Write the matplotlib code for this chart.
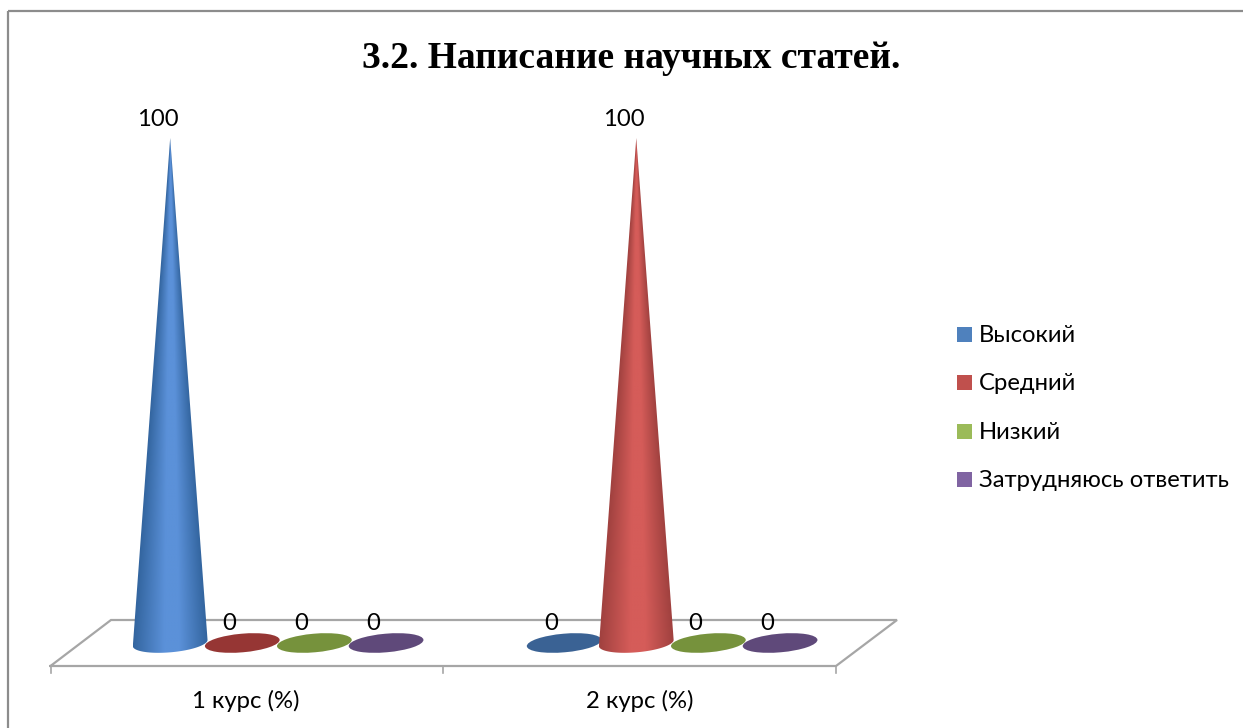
import numpy as np
import matplotlib
matplotlib.use("Agg")
import matplotlib.pyplot as plt
from matplotlib.patches import Ellipse, Polygon, Rectangle
from matplotlib.colors import LinearSegmentedColormap
from matplotlib.transforms import Affine2D, IdentityTransform

title = "3.2. Написание научных статей."
categories = ["1 курс (%)", "2 курс (%)"]
series_names = ["Высокий", "Средний", "Низкий", "Затрудняюсь ответить"]
vysoky = [100, 0]
sredny = [0, 100]
nizky = [0, 0]
zatr = [0, 0]
series_values = [vysoky, sredny, nizky, zatr]
legend_colors = ["#4f81bd", "#c0504d", "#9bbb59", "#8064a2"]
disc_colors = ["#3a6294", "#963634", "#76923c", "#5f497a"]
edge_colors = ["#33659f", "#a0413f", "#76923c", "#5f497a"]
mid_colors = ["#5b91d9", "#d55c59", "#a5c860", "#8a6cb0"]

W, H = 1245, 728
fig = plt.figure(figsize=(W / 100, H / 100), dpi=100, facecolor="white")
plt.rcParams["font.family"] = ["Lato", "Open Sans", "DejaVu Sans"]


def rect(x0, ytop, x1, ybot):
    return [x0 / W, 1 - ybot / H, (x1 - x0) / W, (ybot - ytop) / H]


# page overlay in pixels: chart frame, floor, legend
pg = fig.add_axes([0, 0, 1, 1], zorder=0)
pg.set_xlim(0, W)
pg.set_ylim(H, 0)
pg.axis("off")
frame = "#8c8c8c"
pg.plot([8, 8], [H, 11], color=frame, lw=1.6, solid_capstyle="butt")
pg.plot([8, 1243], [11, 11], color=frame, lw=1.6, solid_capstyle="butt")
grey = "#a6a6a6"
pg.plot([50.5, 111, 897, 836, 50.5], [666, 620, 620, 666, 666], color=grey, lw=1.6, solid_joinstyle="miter")
for tx in (50.5, 443, 836):
    pg.plot([tx, tx], [666, 673], color=grey, lw=1.2)

pg.text(631, 58, title, family="Liberation Serif", weight="bold", fontsize=27,
        ha="center", va="center", color="black")

FS = 17.2
for ly, name, c in zip([334.5, 382.5, 431.5, 479.5], series_names, legend_colors):
    pg.add_patch(Rectangle((957, ly - 7.5), 15, 15, fc=c, ec="none"))
    pg.text(979, ly + 1, name, fontsize=FS, va="center", ha="left", color="black")

# data axes: x = category position, y = value (505 px per 100, room below zero)
PX = 5.05
ax = fig.add_axes(rect(50, 138, 838, 643 + 10 * PX), zorder=1)
ax.patch.set_alpha(0)
ax.axis("off")
ax.set_xlim(0, 2)
ax.set_ylim(-10, 100)

offsets = [0.305, 0.488, 0.671, 0.853]
A, B, TILT = 37.5, 9.3, 5
th = np.deg2rad(TILT)
GROUP_PX = 394

for g, cat in enumerate(categories):
    pg.text(246 + 393.5 * g, 701, cat, fontsize=FS, ha="center", va="center", color="black")
    for s, vals in enumerate(series_values):
        v = vals[g]
        xd = g + offsets[s]
        px, py = ax.transData.transform((xd, 0))
        if v == 0:
            ax.add_patch(Ellipse((0, 0), 2 * A, 2 * B, angle=TILT, fc=disc_colors[s], ec="none",
                                 transform=Affine2D().translate(px, py), clip_on=False, zorder=3))
            dx_lab, dy_lab = -13, 20
        else:
            tip = ax.transData.transform((xd, v))
            t = np.linspace(np.pi, 2 * np.pi, 60)
            bx = A * np.cos(t)
            by = B * np.sin(t)
            base = np.c_[px + bx * np.cos(th) - by * np.sin(th), py + bx * np.sin(th) + by * np.cos(th)]
            poly = Polygon(np.vstack([tip, base]), closed=True, transform=IdentityTransform(), fc="none", ec="none")
            ax.add_patch(poly)
            cmap = LinearSegmentedColormap.from_list(
                "c", [(0, edge_colors[s]), (0.42, mid_colors[s]), (0.62, mid_colors[s]), (1, edge_colors[s])])
            # shading follows the cone's width at each height
            dx = A / GROUP_PX
            yy = np.linspace(v, -3, 400)[:, None]
            xx = np.linspace(-1, 1, 200)[None, :]
            half = np.clip((v - yy) / v, 1e-3, 1)
            shade = np.clip((xx / half + 1) / 2, 0, 1)
            im = ax.imshow(shade, cmap=cmap, aspect="auto", vmin=0, vmax=1, interpolation="bilinear",
                           extent=(xd - dx, xd + dx, -3, v), zorder=3)
            im.set_clip_path(poly)
            dx_lab, dy_lab = -12, 18
        ax.annotate(str(v), (xd, v), xytext=(dx_lab, dy_lab), textcoords="offset pixels", fontsize=FS,
                    ha="center", va="center", color="black", annotation_clip=False, zorder=2)
ax.set_xlim(0, 2)
ax.set_ylim(-10, 100)

fig.savefig("out.png", dpi=100, facecolor="white")
